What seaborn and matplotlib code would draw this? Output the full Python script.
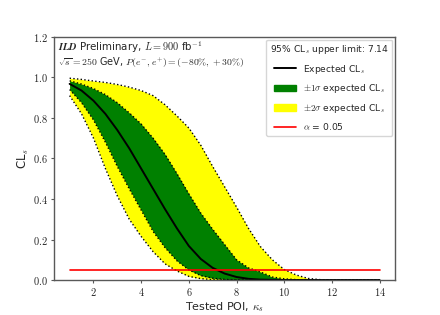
import numpy as np
import pandas as pd
import matplotlib
matplotlib.use('Agg')
import matplotlib.pyplot as plt
import seaborn as sns
from matplotlib.lines import Line2D
from matplotlib.patches import Patch
from matplotlib.ticker import FuncFormatter

# tested POI values (kappa_s)
poi = [1.0, 1.5, 2.0, 2.5, 3.0, 3.5, 4.0, 4.5, 5.0, 5.5, 6.0, 6.5, 7.0, 7.5,
       8.0, 8.5, 9.0, 9.5, 10.0, 10.5, 11.0, 11.5, 12.0, 12.5, 13.0, 13.5, 14.0]

cls_exp = [0.968, 0.935, 0.885, 0.82, 0.74, 0.65, 0.55, 0.45, 0.35, 0.255, 0.168, 0.104, 0.06, 0.032,
           0.015, 0.006, 0.002, 0.001, 0.0, 0.0, 0.0, 0.0, 0.0, 0.0, 0.0, 0.0, 0.0]
cls_p1 = [0.983, 0.967, 0.945, 0.915, 0.875, 0.825, 0.77, 0.7, 0.62, 0.525, 0.425, 0.33, 0.25, 0.175,
          0.1, 0.06, 0.04, 0.015, 0.006, 0.002, 0.0, 0.0, 0.0, 0.0, 0.0, 0.0, 0.0]
cls_m1 = [0.94, 0.875, 0.79, 0.68, 0.56, 0.45, 0.345, 0.24, 0.16, 0.095, 0.05, 0.022, 0.009, 0.003,
          0.001, 0.0, 0.0, 0.0, 0.0, 0.0, 0.0, 0.0, 0.0, 0.0, 0.0, 0.0, 0.0]
cls_p2 = [0.996, 0.99, 0.982, 0.975, 0.965, 0.952, 0.935, 0.91, 0.865, 0.81, 0.75, 0.665, 0.56, 0.46,
          0.36, 0.255, 0.165, 0.1, 0.052, 0.025, 0.008, 0.002, 0.0, 0.0, 0.0, 0.0, 0.0]
cls_m2 = [0.91, 0.82, 0.7, 0.55, 0.415, 0.3, 0.215, 0.14, 0.08, 0.045, 0.018, 0.007, 0.002, 0.0,
          0.0, 0.0, 0.0, 0.0, 0.0, 0.0, 0.0, 0.0, 0.0, 0.0, 0.0, 0.0, 0.0]
alpha = 0.05
upper_limit = 7.14

df = pd.DataFrame({'poi': poi, 'exp': cls_exp, 'p1': cls_p1, 'm1': cls_m1,
                   'p2': cls_p2, 'm2': cls_m2, 'alpha': alpha})

sns.set_style('ticks')
plt.rcParams['mathtext.fontset'] = 'cm'
plt.rcParams['font.family'] = ['DejaVu Sans']

fig = plt.figure(figsize=(4.4, 3.15), dpi=100)
ax = fig.add_axes([0.123, 0.111, 0.775, 0.772])

ax.fill_between(df['poi'], df['m2'], df['p2'], color='yellow', lw=0)
ax.fill_between(df['poi'], df['m1'], df['p1'], color='green', lw=0)
for col in ['m2', 'p2', 'm1', 'p1']:
    sns.lineplot(data=df, x='poi', y=col, ax=ax, color='black', lw=1.0, linestyle=':')
sns.lineplot(data=df, x='poi', y='exp', ax=ax, color='black', lw=1.4)
sns.lineplot(data=df, x='poi', y='alpha', ax=ax, color='red', lw=1.2)

ax.set_ylim(0, 1.2)
ax.set_xticks([2, 4, 6, 8, 10, 12, 14])
ax.set_yticks([0.0, 0.2, 0.4, 0.6, 0.8, 1.0, 1.2])
ax.xaxis.set_major_formatter(FuncFormatter(lambda v, p: '$%d$' % v))
ax.yaxis.set_major_formatter(FuncFormatter(lambda v, p: '$%.1f$' % v))
ax.tick_params(labelsize=7.5, length=2.5, pad=2, color='0.35')
for s in ax.spines.values():
    s.set_color('0.35')
    s.set_linewidth(1.0)

ax.set_xlabel(r'Tested POI, $\kappa_s$', fontsize=8, labelpad=1)
ax.set_ylabel(r'CL$_s$', fontsize=8.5, labelpad=1)

ax.text(0.012, 0.959, r'$\mathbfit{ILD}$ Preliminary, $L = 900$ fb$^{-1}$',
        transform=ax.transAxes, fontsize=7.4, va='center')
ax.text(0.012, 0.897, r'$\sqrt{s} = 250$ GeV, $P(e^{-}, e^{+}) = (-80\%, +30\%)$',
        transform=ax.transAxes, fontsize=7.0, va='center')

handles = [Line2D([], [], color='black', lw=1.4),
           Patch(color='green'),
           Patch(color='yellow'),
           Line2D([], [], color='red', lw=1.2)]
labels = [r'Expected CL$_s$', r'$\pm1\sigma$ expected CL$_s$',
          r'$\pm2\sigma$ expected CL$_s$', r'$\alpha$ = 0.05']
leg = ax.legend(handles, labels, loc='upper right', fontsize=6.6,
                title='95%% CL$_s$ upper limit: %.2f' % upper_limit, title_fontsize=6.6,
                frameon=True, handlelength=2.4, labelspacing=0.7, borderaxespad=0.3)

fig.savefig('out.png', dpi=100)
